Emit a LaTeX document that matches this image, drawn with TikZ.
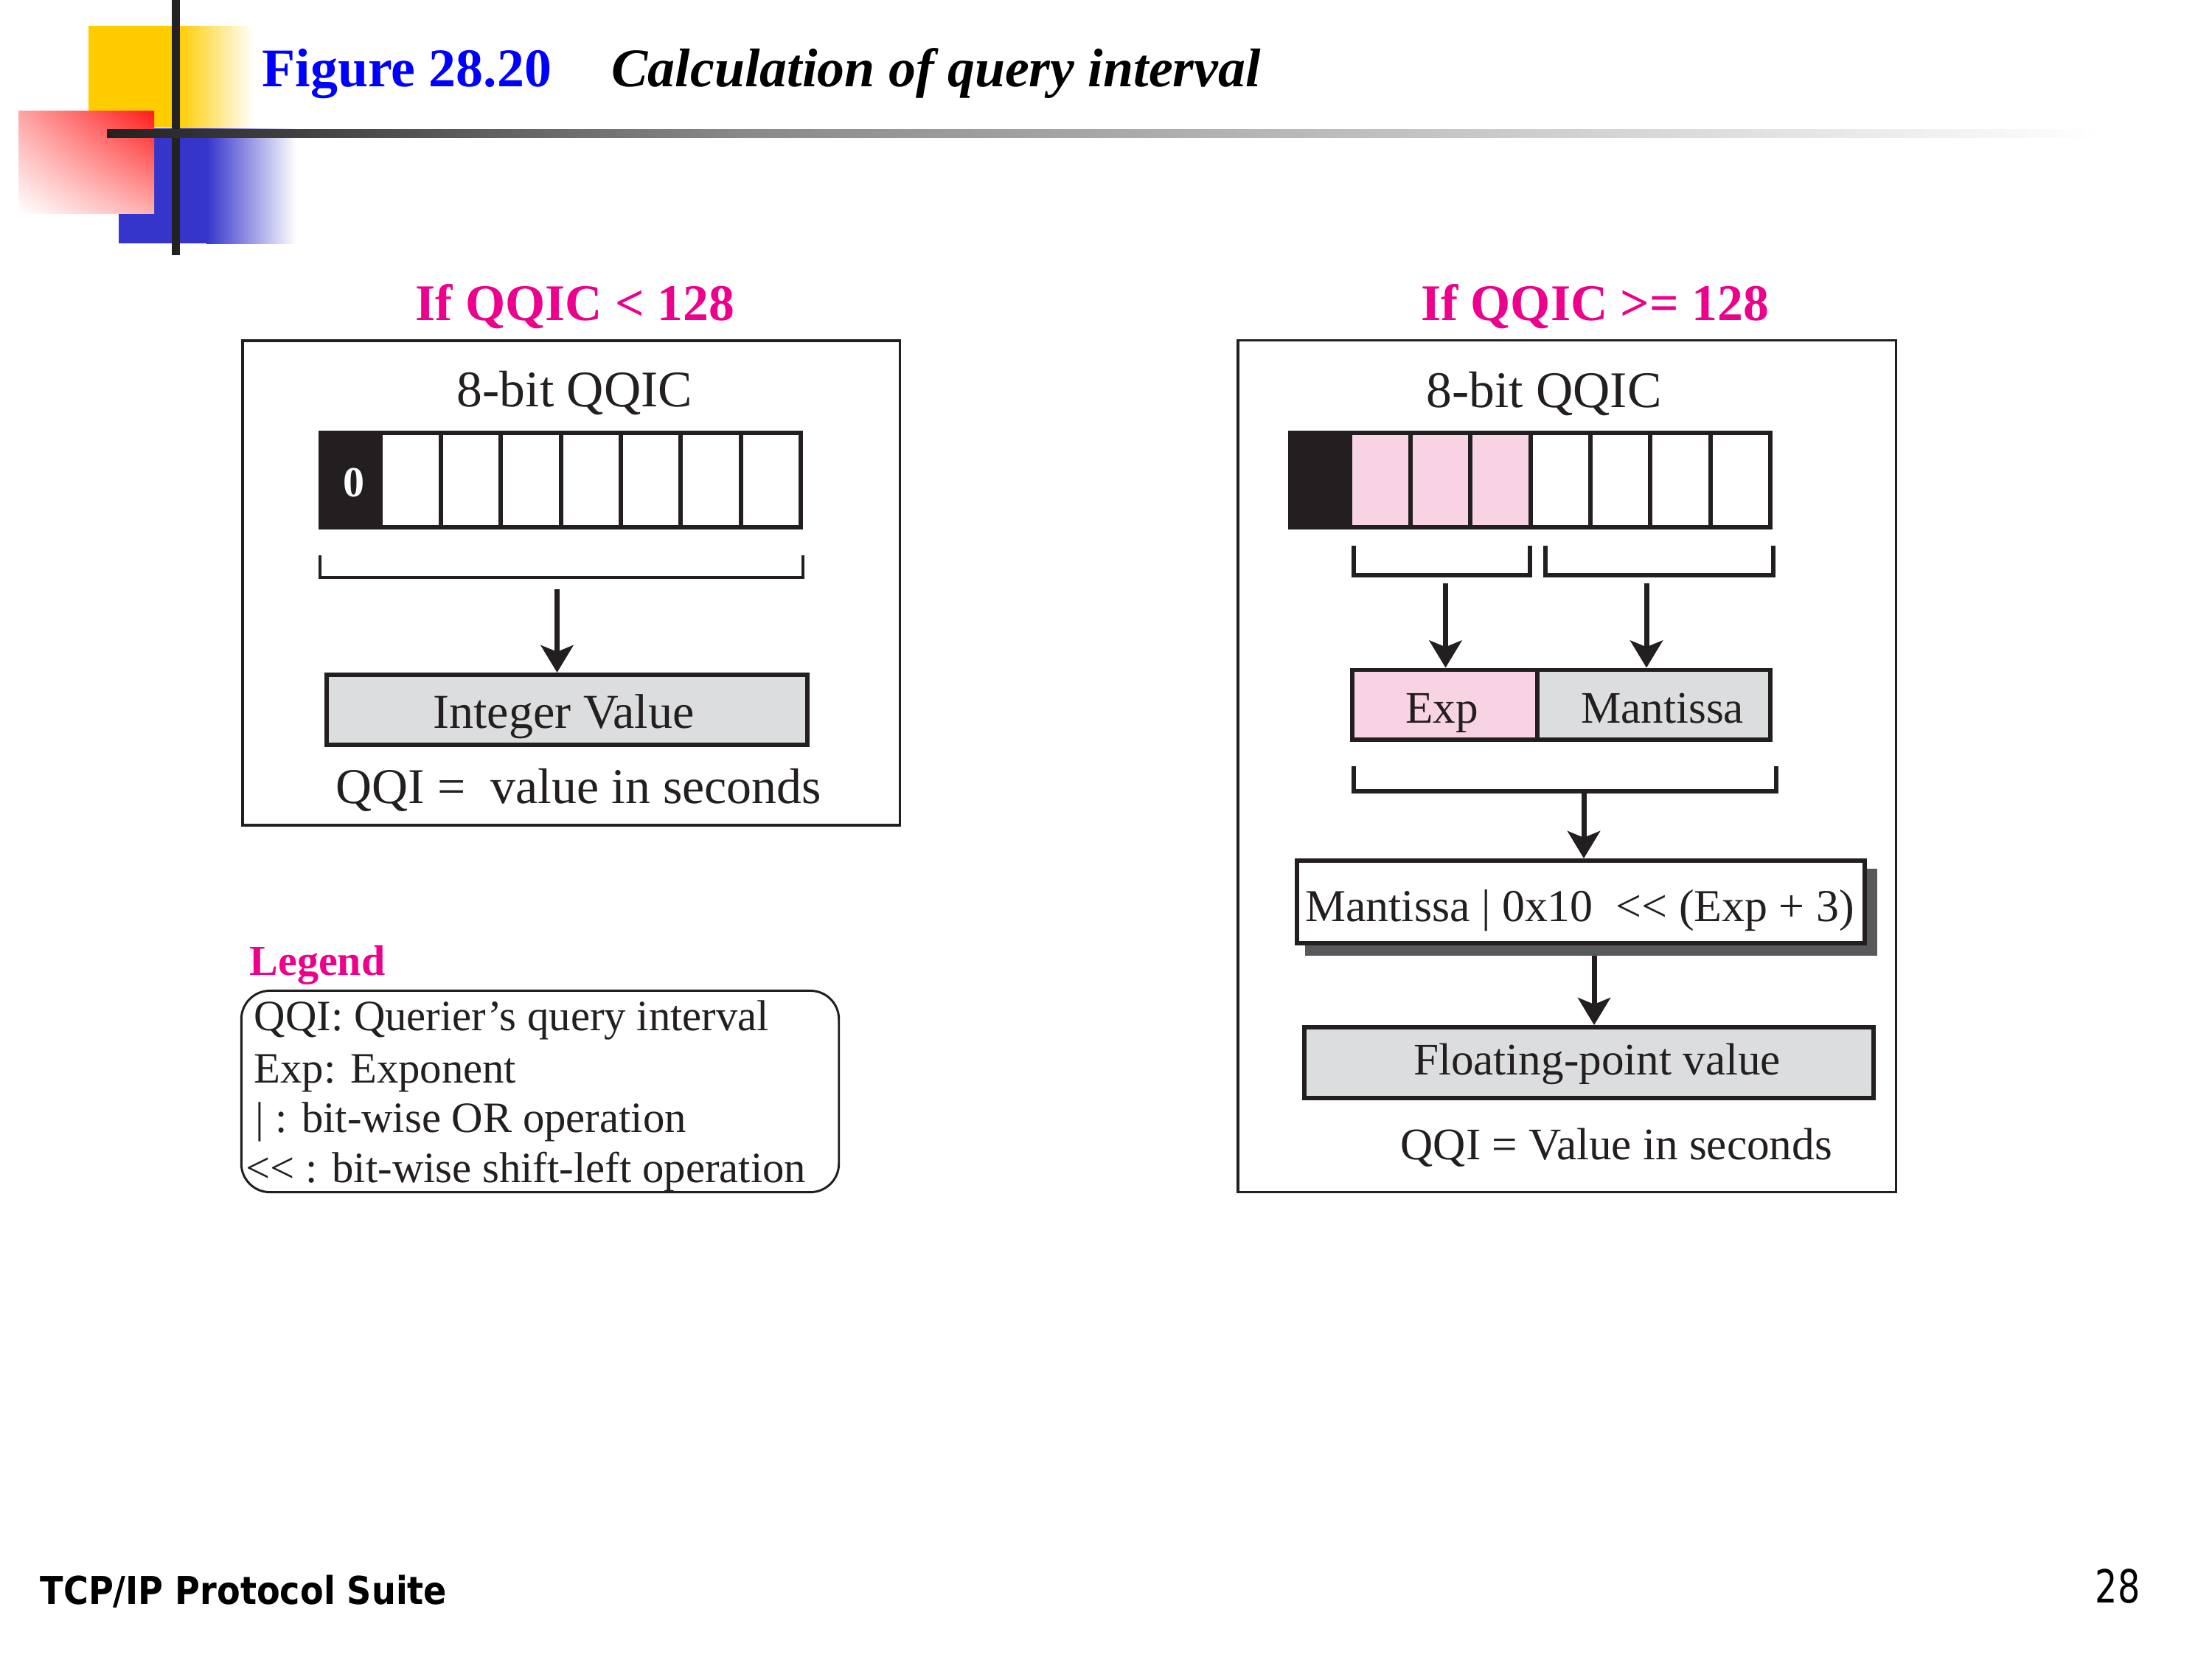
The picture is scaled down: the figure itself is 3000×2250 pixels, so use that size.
\documentclass[tikz,border=0pt]{standalone}
\usepackage{fontspec}
\usepackage{graphicx}
\setmainfont{Liberation Serif}
\newfontfamily\dejavu{DejaVu Sans}
\usetikzlibrary{arrows.meta,backgrounds,shadings}
\definecolor{ink}{HTML}{231F20}
\definecolor{mag}{HTML}{EC008C}
\definecolor{pinkf}{HTML}{F8D3E4}
\definecolor{grayf}{HTML}{DCDDDE}
\definecolor{shd}{HTML}{58595B}
\definecolor{yel}{HTML}{FFCC00}
\definecolor{blu}{HTML}{3535CC}
\definecolor{dk}{HTML}{222222}
\definecolor{midg}{HTML}{888888}
\definecolor{titleblue}{HTML}{0000FF}
\definecolor{redd}{HTML}{FF1A1A}
\begin{document}
\begin{tikzpicture}[x=0.01cm,y=-0.01cm,
  every node/.style={inner sep=0pt},
  panel/.style={draw=ink,line width=1pt},
  cellbox/.style={draw=ink,line width=1.7pt,minimum width=0.814cm,minimum height=1.28cm},
  valbox/.style={draw=ink,line width=1.7pt},
  brk/.style={draw=ink,line width=1.1pt},
  brkr/.style={draw=ink,line width=1.6pt},
  arr/.style={draw=ink,line width=2pt,-{Stealth[length=10.5pt,width=12.5pt,inset=2.5pt]}},
  hdr/.style={text=mag,anchor=base,font=\fontsize{19.8}{24}\selectfont\bfseries},
  big/.style={text=ink,font=\fontsize{19.8}{24}\selectfont},
  mid/.style={text=ink,font=\fontsize{17.4}{21}\selectfont},
  leg/.style={text=ink,anchor=base west,font=\fontsize{16.7}{20}\selectfont},
]
\useasboundingbox (0,0) rectangle (3000,2250);
\begin{scope}[on background layer]
\fill[white] (0,0) rectangle (3000,2250);
\end{scope}

% decoration
\fill[yel] (120,35) rectangle (242,173);
\shade[left color=yel,right color=white] (241,35) rectangle (344,173);
\fill[blu] (161,174) rectangle (281,330);
\shade[left color=blu,right color=white] (280,174) rectangle (402,330);
\shade[upper left=redd!40,upper right=redd,lower left=white,lower right=redd!35] (25,150) rectangle (209,289);
\fill[dk] (233,0) rectangle (244,346);
\shade[left color=dk,right color=midg] (145,175) rectangle (1000,186);
\shade[left color=midg,right color=white] (999,175) rectangle (2850,186);

% title
\node[anchor=base west,text=titleblue,font=\fontsize{21}{25}\selectfont\bfseries] (fig) at (355,117) {Figure 28.20};
\node[anchor=base west,text=black,font=\fontsize{21}{25}\selectfont\bfseries\itshape] (cap) at (829,117) {Calculation of query interval};

% left panel
\node[hdr] (lh) at (780,434) {If QQIC < 128};
\node[panel,minimum width=8.91cm,minimum height=6.57cm] (lpanel) at (774.5,790.5) {};
\node[big,anchor=base] (lt) at (779.5,551.5) {8-bit QQIC};
\node[cellbox,fill=ink] (lc0) at (475.7,651) {};
\foreach \i in {1,...,7}{
  \node[cellbox,fill=white] (lc\i) at ({475.7+81.4*\i},651) {};
}
\node[anchor=base,text=white,font=\fontsize{16.5}{20}\selectfont\bfseries] (zero) at (480,673) {0};
\draw[brk] (434,753) -- (434,783) -- (1089,783) -- (1089,753);
\node[valbox,fill=grayf,minimum width=6.52cm,minimum height=0.95cm] (intbox) at (769,962.5) {};
\coordinate (la) at (755.5,799);
\draw[arr] (la) -- (la |- intbox.north);
\node[anchor=base,text=ink,font=\fontsize{18.8}{22}\selectfont] (intt) at (764.5,987) {Integer Value};
\node[anchor=base west,text=ink,font=\fontsize{19.3}{23}\selectfont] (lqqi) at (455,1089) {QQI = \ value in seconds};

% right panel
\node[hdr] (rh) at (2163,434) {If QQIC >= 128};
\node[panel,minimum width=8.92cm,minimum height=11.54cm] (rpanel) at (2125,1039) {};
\node[big,anchor=base] (rt) at (2094,552) {8-bit QQIC};
\node[cellbox,fill=ink] (rc0) at (1790.7,651) {};
\foreach \i in {1,2,3}{
  \node[cellbox,fill=pinkf] (rc\i) at ({1790.7+81.4*\i},651) {};
}
\foreach \i in {4,...,7}{
  \node[cellbox,fill=white] (rc\i) at ({1790.7+81.4*\i},651) {};
}
\draw[brkr] (1836,740) -- (1836,780) -- (2075,780) -- (2075,740);
\draw[brkr] (2096,740) -- (2096,780) -- (2405,780) -- (2405,740);
\node[valbox,fill=pinkf,minimum width=2.515cm,minimum height=0.945cm] (expbox) at (1959.75,955.75) {};
\node[valbox,fill=grayf,minimum width=3.155cm,minimum height=0.945cm] (mantbox) at (2243.25,955.75) {};
\coordinate (ra1) at (1960.5,791);
\coordinate (ra2) at (2233,791);
\draw[arr] (ra1) -- (ra1 |- expbox.north);
\draw[arr] (ra2) -- (ra2 |- mantbox.north);
\node[mid,anchor=base] (expt) at (1955.5,980) {Exp};
\node[mid,anchor=base] (mantt) at (2254.5,980) {Mantissa};
\draw[brkr] (1836,1039) -- (1836,1073) -- (2409,1073) -- (2409,1039);
\node[valbox,fill=white,minimum width=7.695cm,minimum height=1.12cm] (fbox) at (2143.75,1223) {};
\begin{scope}[on background layer]
\fill[shd] ([shift={(14,14)}]fbox.south west) rectangle ([shift={(14,14)}]fbox.north east);
\end{scope}
\coordinate (ra3) at (2148,1073);
\draw[arr] (ra3) -- (ra3 |- fbox.north);
\node[anchor=base,text=ink,font=\fontsize{17.6}{21}\selectfont] (ft) at (2142.5,1249) {Mantissa | 0x10\enspace<{}< (Exp + 3)};
\node[valbox,fill=grayf,minimum width=7.72cm,minimum height=0.96cm] (fpbox) at (2155,1441) {};
\coordinate (ra4) at (2162,1296);
\draw[arr] (ra4) -- (ra4 |- fpbox.north);
\node[mid,anchor=base] (fpt) at (2166,1457.6) {Floating-point value};
\node[mid,anchor=base west] (rqqi) at (1899,1572) {QQI = Value in seconds};

% legend
\node[anchor=base west,text=mag,font=\fontsize{16.5}{20}\selectfont\bfseries] (legh) at (338,1322) {Legend};
\node[draw=ink,line width=0.85pt,rounded corners=11pt,minimum width=8.10cm,minimum height=2.73cm] (legbox) at (732.5,1480) {};
\node[leg] (l1) at (344,1397) {QQI: Querier’s query interval};
\node[leg] (l2) at (344,1468) {Exp: Exponent};
\node[leg] (l3) at (346,1535) {| : bit-wise OR operation};
\node[leg] (l4) at (333,1603) {<{}< : bit-wise shift-left operation};

% footer
\node[anchor=base west,font=\dejavu\bfseries\fontsize{14.8}{18}\selectfont] (foot) at (54,2175) {\scalebox{0.887}[1]{TCP/IP Protocol Suite}};
\node[anchor=base east,font=\dejavu\fontsize{17.6}{20}\selectfont] (pg) at (2903,2173) {\scalebox{0.77}[1]{28}};
\end{tikzpicture}
\end{document}
